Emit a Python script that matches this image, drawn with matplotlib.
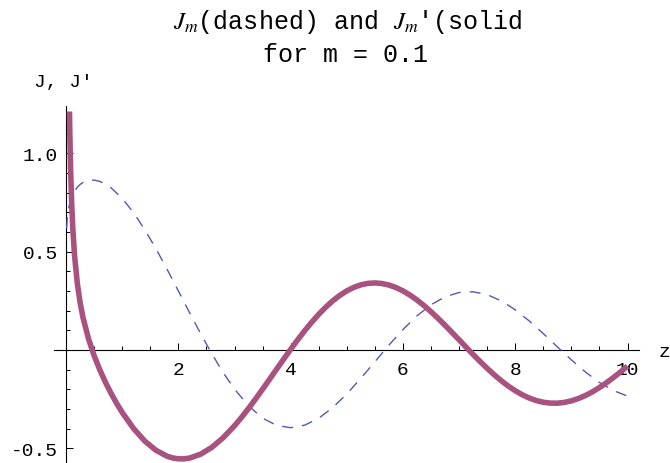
import matplotlib
matplotlib.use("Agg")
import matplotlib.pyplot as plt
from matplotlib.ticker import FixedLocator, FixedFormatter, MultipleLocator

# ---- data (m = 0.1) ----
x_dashed = [0.01, 0.02, 0.03, 0.04, 0.05, 0.06, 0.07, 0.08, 0.1, 0.12, 0.15, 0.2, 0.25, 0.3,
            0.4, 0.5, 0.6, 0.7, 0.8, 1.0, 1.2, 1.4, 1.6, 1.8, 2.0, 2.2, 2.4, 2.6, 2.8, 3.0,
            3.25, 3.5, 3.75, 4.0, 4.25, 4.5, 4.75, 5.0, 5.25, 5.5, 5.75, 6.0, 6.25, 6.5,
            6.75, 7.0, 7.25, 7.5, 7.75, 8.0, 8.25, 8.5, 8.75, 9.0, 9.25, 9.5, 9.75, 10.0]
j_dashed = [0.6188, 0.6632, 0.6905, 0.7106, 0.7265, 0.7396, 0.7509, 0.7607, 0.7773, 0.7908,
            0.8071, 0.8274, 0.8417, 0.8518, 0.8626, 0.8638, 0.8573, 0.8440, 0.8248, 0.7708,
            0.6989, 0.6125, 0.5150, 0.4097, 0.3001, 0.1895, 0.0814, -0.0212, -0.1158, -0.1986,
            -0.2841, -0.3463, -0.3834, -0.3951, -0.3822, -0.3470, -0.2927, -0.2234, -0.1440,
            -0.0596, 0.0247, 0.1040, 0.1736, 0.2300, 0.2702, 0.2924, 0.2960, 0.2814, 0.2500,
            0.2044, 0.1476, 0.0835, 0.0162, -0.0503, -0.1118, -0.1649, -0.2064, -0.2343]

x_solid = [0.06, 0.07, 0.08, 0.1, 0.12, 0.15, 0.2, 0.25, 0.3, 0.4, 0.5, 0.6, 0.7, 0.8, 0.9,
           1.0, 1.2, 1.4, 1.6, 1.8, 1.9, 2.0, 2.1, 2.2, 2.4, 2.6, 2.8, 3.0,
           3.125, 3.25, 3.375, 3.5, 3.625, 3.75, 3.875, 4.0, 4.125, 4.25, 4.375, 4.5,
           4.625, 4.75, 4.875, 5.0, 5.125, 5.25, 5.375, 5.5, 5.625, 5.75, 5.875, 6.0,
           6.125, 6.25, 6.375, 6.5, 6.625, 6.75, 6.875, 7.0, 7.125, 7.25, 7.375, 7.5,
           7.625, 7.75, 7.875, 8.0, 8.125, 8.25, 8.375, 8.5, 8.625, 8.75, 8.875, 9.0,
           9.125, 9.25, 9.375, 9.5, 9.625, 9.75, 9.875, 10.0]
jp_solid = [1.2125, 1.0488, 0.9232, 0.7419, 0.6158, 0.4829, 0.3382, 0.2404, 0.1666, 0.0560,
            -0.0291, -0.1005, -0.1633, -0.2198, -0.2710,
            -0.3178, -0.3984, -0.4626, -0.5099, -0.5402, -0.5489, -0.5532, -0.5534, -0.5494,
            -0.5293, -0.4941, -0.4454, -0.3851,
            -0.3426, -0.2970, -0.2490, -0.1993, -0.1485, -0.0974, -0.0465, 0.0034, 0.0518,
            0.0979, 0.1413, 0.1815, 0.2178, 0.2500, 0.2777, 0.3006, 0.3184, 0.3312, 0.3387,
            0.3409, 0.3381, 0.3303, 0.3176, 0.3005, 0.2793, 0.2542, 0.2259, 0.1946, 0.1611,
            0.1257, 0.0891, 0.0518, 0.0143, -0.0227, -0.0587, -0.0932, -0.1258, -0.1559,
            -0.1831, -0.2071, -0.2276, -0.2443, -0.2571, -0.2657, -0.2701, -0.2704, -0.2665,
            -0.2586, -0.2468, -0.2314, -0.2127, -0.1910, -0.1666, -0.1400, -0.1116, -0.0818]

xtick_pos = [2, 4, 6, 8, 10]
xtick_labels = ["2", "4", "6", "8", "10"]
ytick_pos = [-0.5, 0.5, 1.0]
ytick_labels = ["-0.5", "0.5", "1.0"]

title_line1 = r"$J_m$(dashed) and $J_m$'(solid"
title_line2 = "for m = 0.1"
ylabel_text = "J, J'"
xlabel_text = "z"

# ---- style ----
plt.rcParams["font.family"] = ["Liberation Mono", "DejaVu Sans Mono"]
plt.rcParams["mathtext.fontset"] = "stix"

W, H = 670, 464
fig = plt.figure(figsize=(W / 100, H / 100), dpi=100)
ax = fig.add_axes([54.3 / W, 0.0, 585 / W, (H - 106.7) / H])
ax.set_xlim(-0.21, 10.21)
ax.set_ylim(-0.5745, 1.242)

for side in ("top", "right"):
    ax.spines[side].set_visible(False)
for side in ("left", "bottom"):
    ax.spines[side].set_position(("data", 0))
    ax.spines[side].set_linewidth(0.8)
    ax.spines[side].set_zorder(1)

ax.xaxis.set_major_locator(FixedLocator(xtick_pos))
ax.xaxis.set_major_formatter(FixedFormatter(xtick_labels))
ax.xaxis.set_minor_locator(MultipleLocator(0.5))
ax.yaxis.set_major_locator(FixedLocator(ytick_pos))
ax.yaxis.set_major_formatter(FixedFormatter(ytick_labels))
ax.yaxis.set_minor_locator(MultipleLocator(0.1))

ax.tick_params(axis="both", which="major", direction="in", length=4.8, width=0.75,
               labelsize=14, colors="black")
ax.tick_params(axis="both", which="minor", direction="in", length=3.0, width=0.75)
ax.tick_params(axis="x", which="major", pad=7.7)
ax.tick_params(axis="y", which="major", pad=5.7)

ax.plot(x_dashed, j_dashed, color="#5757B3", lw=1.0, dashes=(7.9, 6.5), zorder=3)
ax.plot(x_solid, jp_solid, color="#A8527F", lw=4.0, solid_capstyle="butt",
        solid_joinstyle="round", zorder=4)

fig.text(348 / W, 1 - 29.5 / H, title_line1, ha="center", va="baseline", fontsize=18)
fig.text(345.5 / W, 1 - 61.7 / H, title_line2, ha="center", va="baseline", fontsize=18)
fig.text(34 / W, 1 - 86.7 / H, ylabel_text, ha="left", va="baseline", fontsize=14)
ax.text(10.55, -0.0305, xlabel_text, ha="left", va="baseline", fontsize=14, clip_on=False)

fig.savefig("out.png", dpi=100, facecolor="white")
